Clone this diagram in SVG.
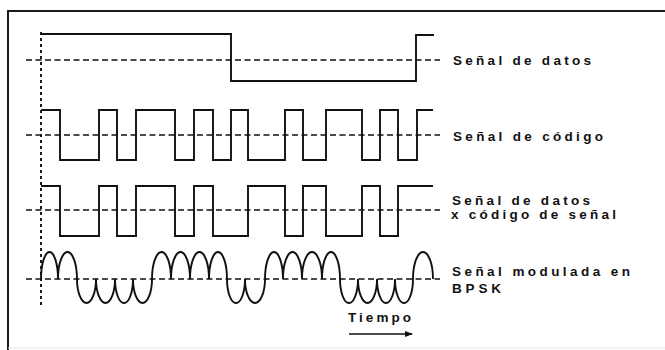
<svg xmlns="http://www.w3.org/2000/svg" width="665" height="350" viewBox="0 0 665 350">
<style>
.frame{stroke:#1a1a1a;stroke-width:2;fill:none}
.sig{stroke:#111;stroke-width:1.9;fill:none;stroke-linejoin:miter}
.axis{stroke:#111;stroke-width:1.7;stroke-dasharray:6 3.5;fill:none}
.vaxis{stroke:#111;stroke-width:1.9;stroke-dasharray:3 3;fill:none}
.lbl{font-family:"Liberation Sans",Arial,sans-serif;font-weight:bold;font-size:13.5px;fill:#111}
</style>
<defs>
<marker id="ah" markerWidth="8" markerHeight="8" refX="7" refY="4" orient="auto" markerUnits="userSpaceOnUse">
<path d="M0,1 L8,4 L0,7 Z" fill="#111"/>
</marker>
</defs>
<rect x="0" y="0" width="665" height="350" fill="#ffffff"/>
<g id="frame">
<path class="frame" d="M8,350 V11 H665"/>
<line x1="8" y1="348" x2="665" y2="348" stroke="#e6e6e6" stroke-width="1"/>
</g>
<g id="time-axis">
<line class="vaxis" x1="41" y1="32" x2="41" y2="308"/>
</g>
<g id="datos">
<line class="axis" x1="26" y1="60" x2="440" y2="60"/>
<path class="sig" d="M41,34 H231 V81 H416 V35 H434"/>
<text class="lbl" x="453" y="65" textLength="138" lengthAdjust="spacing">Señal de datos</text>
</g>
<g id="codigo">
<line class="axis" x1="26" y1="135" x2="440" y2="135"/>
<path class="sig" d="M41,110 H60 V160 H99 V110 H117 V160 H136 V110 H175 V160 H194 V110 H213 V160 H231 V110 H248 V160 H285 V110 H303 V160 H326 V110 H362 V160 H380 V110 H398 V160 H417 V110 H433"/>
<text class="lbl" x="453" y="141" textLength="150" lengthAdjust="spacing">Señal de código</text>
</g>
<g id="producto">
<line class="axis" x1="26" y1="210" x2="440" y2="210"/>
<path class="sig" d="M41,186 H60 V236 H99 V186 H117 V236 H136 V186 H175 V236 H194 V186 H213 V236 H248 V186 H285 V236 H303 V186 H326 V236 H362 V186 H380 V236 H398 V186 H433"/>
<text class="lbl" x="452" y="205" textLength="138" lengthAdjust="spacing">Señal de datos</text>
<text class="lbl" x="451" y="219" textLength="165" lengthAdjust="spacing">x código de señal</text>
</g>
<g id="bpsk">
<line class="axis" x1="26" y1="279" x2="440" y2="279"/>
<path class="sig" d="M41,279 A8.5,27 0 0 1 58,279 A9.5,27 0 0 1 77,279 A9.5,24 0 0 0 96,279 A9.5,24 0 0 0 115,279 A9,24 0 0 0 133,279 A9.5,24 0 0 0 152,279 A9.5,27 0 0 1 171,279 A9.5,27 0 0 1 190,279 A9.5,27 0 0 1 209,279 A9,27 0 0 1 227,279 A9,24 0 0 0 245,279 A10,24 0 0 0 265,279 A9,27 0 0 1 283,279 A9.5,27 0 0 1 302,279 A10,27 0 0 1 322,279 A9,27 0 0 1 340,279 A9,24 0 0 0 358,279 A9.5,24 0 0 0 377,279 A9,24 0 0 0 395,279 A9,24 0 0 0 413,279 A10,27 0 0 1 433,279"/>
<text class="lbl" x="452" y="276" textLength="178" lengthAdjust="spacing">Señal modulada en</text>
<text class="lbl" x="452" y="293" textLength="49" lengthAdjust="spacing">BPSK</text>
</g>
<g id="tiempo">
<text class="lbl" x="348" y="322" textLength="63" lengthAdjust="spacing">Tiempo</text>
</g>
<g id="connectors">
<line x1="349" y1="334" x2="412" y2="334" stroke="#111" stroke-width="1.4" marker-end="url(#ah)"/>
</g>
</svg>
